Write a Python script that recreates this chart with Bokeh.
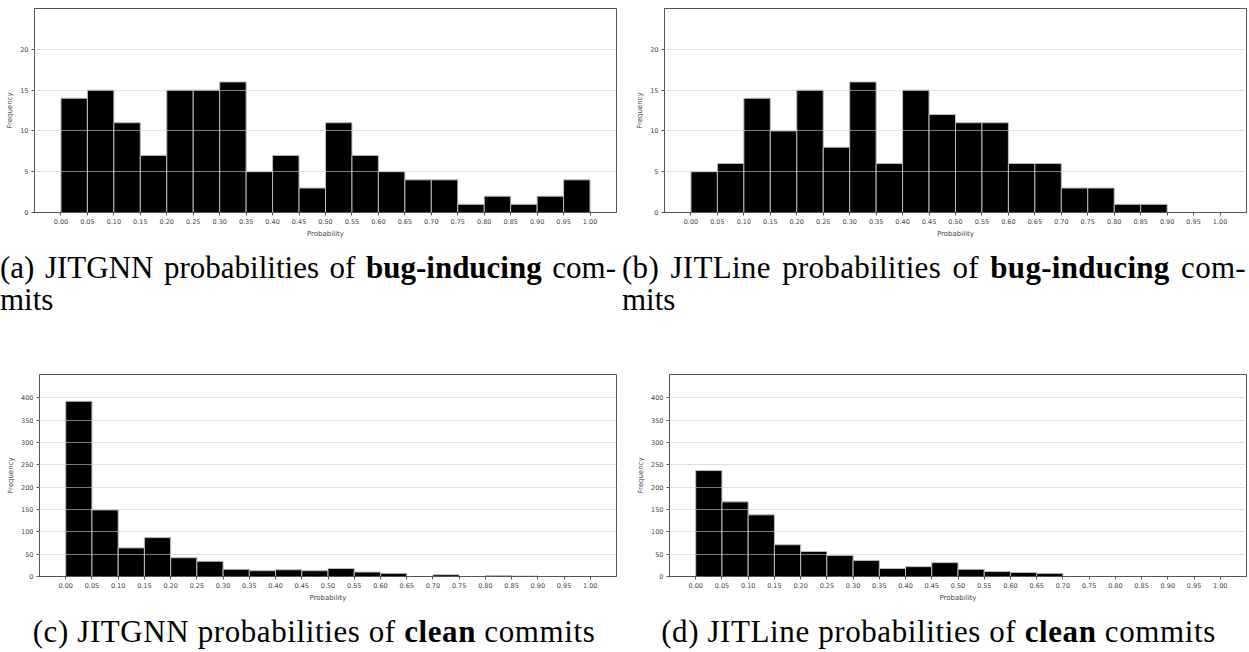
import numpy as np
from bokeh.plotting import figure
from bokeh.layouts import column, row
from bokeh.models import Div, FixedTicker
from bokeh.embed import file_html
from bokeh.resources import INLINE

# ---------------- data ----------------
bin_edges = [round(0.05 * i, 2) for i in range(21)]
x_tick_labels = ["%.2f" % v for v in bin_edges]

jitgnn_bug = [14, 15, 11, 7, 15, 15, 16, 5, 7, 3, 11, 7, 5, 4, 4, 1, 2, 1, 2, 4]
jitline_bug = [5, 6, 14, 10, 15, 8, 16, 6, 15, 12, 11, 11, 6, 6, 3, 3, 1, 1, 0, 0]
jitgnn_clean = [392, 149, 64, 87, 42, 34, 16, 13, 15, 13, 18, 10, 7, 0, 4, 0, 2, 1, 0, 0]
jitline_clean = [237, 167, 138, 71, 56, 47, 36, 18, 22, 31, 16, 11, 9, 7, 0, 0, 0, 0, 0, 0]

bug_y_ticks = [0, 5, 10, 15, 20]
clean_y_ticks = [0, 50, 100, 150, 200, 250, 300, 350, 400]

cap_a = ['(a) JITGNN probabilities of <b>bug-inducing</b> com-', 'mits']
cap_b = ['(b) JITLine probabilities of <b>bug-inducing</b> com-', 'mits']
cap_c = '(c) JITGNN probabilities of <b>clean</b> commits'
cap_d = '(d) JITLine probabilities of <b>clean</b> commits'

TEXT = "#444444"
AXIS = "#555555"


def make_hist(vals, y_end, y_ticks, width, height, bl, br, bt, bb):
    p = figure(width=width, height=height, x_range=(-0.05, 1.05), y_range=(0, y_end),
               output_backend="svg", toolbar_location=None,
               min_border_left=bl, min_border_right=br, min_border_top=bt, min_border_bottom=bb)
    p.quad(left=bin_edges[:-1], right=bin_edges[1:], bottom=0, top=vals,
           fill_color="black", line_color="#bbbbbb", line_width=1)
    p.xgrid.visible = False
    p.ygrid.level = "annotation"
    p.ygrid.grid_line_color = "#cccccc"
    p.ygrid.grid_line_alpha = 0.6
    p.ygrid.ticker = FixedTicker(ticks=y_ticks)
    p.outline_line_color = AXIS
    p.outline_line_width = 1
    p.outline_line_alpha = 1

    p.xaxis.ticker = FixedTicker(ticks=bin_edges)
    p.xaxis.major_label_overrides = {v: s for v, s in zip(bin_edges, x_tick_labels)}
    p.yaxis.ticker = FixedTicker(ticks=y_ticks)
    p.xaxis.axis_label = "Probability"
    p.yaxis.axis_label = "Frequency"
    for ax in (p.xaxis[0], p.yaxis[0]):
        ax.axis_line_color = AXIS
        ax.major_tick_line_color = AXIS
        ax.major_tick_out = 3
        ax.major_tick_in = 0
        ax.minor_tick_line_color = None
        ax.major_label_text_font_size = "6.5px"
        ax.major_label_text_color = TEXT
        ax.major_label_text_font = "DejaVu Sans"
        ax.major_label_standoff = 3
        ax.axis_label_text_font_size = "7px"
        ax.axis_label_text_font = "DejaVu Sans"
        ax.axis_label_text_font_style = "normal"
        ax.axis_label_text_color = TEXT
        ax.axis_label_standoff = 3
    return p


pa = make_hist(jitgnn_bug, 25, bug_y_ticks, 628, 242, 34, 12, 8, 30)
pb = make_hist(jitline_bug, 25, bug_y_ticks, 621, 242, 36, 3, 8, 30)
pc = make_hist(jitgnn_clean, 452, clean_y_ticks, 628, 233, 39, 12, 1, 30)
pd = make_hist(jitline_clean, 452, clean_y_ticks, 621, 233, 41, 3, 1, 30)

FONT = "font-family:'Liberation Serif',serif;font-size:31px;color:black;line-height:32px;"


def cap_two(lines, width, height, shift, line_width, spacing):
    html = ('<div style="%spadding-top:10px;margin-left:%dpx;width:%dpx;white-space:nowrap">'
            '<div style="text-align:justify;text-align-last:justify;letter-spacing:%spx;">%s</div>'
            '<div style="text-align:left;">%s</div></div>') % (FONT, shift, line_width, spacing, lines[0], lines[1])
    return Div(text=html, width=width, height=height, margin=0)


def cap_one(text, width, height, pad_left):
    html = ('<div style="%spadding-top:10px;padding-left:%dpx;width:%dpx;text-align:center;'
            'letter-spacing:0.6px;white-space:nowrap">%s</div>') % (FONT, pad_left, width - pad_left, text)
    return Div(text=html, width=width, height=height, margin=0)


ca = cap_two(cap_a, 628, 131, 0, 616, 0)
cb = cap_two(cap_b, 621, 131, -6, 624, 0.3)
cc = cap_one(cap_c, 628, 44, 0)
cd = cap_one(cap_d, 621, 44, 7)

for f in (pa, pb, pc, pd):
    f.margin = 0

layout = column(row(pa, pb, margin=0), row(ca, cb, margin=0),
                row(pc, pd, margin=0), row(cc, cd, margin=0), margin=0)

open("out.html", "w").write(file_html(layout, INLINE))
